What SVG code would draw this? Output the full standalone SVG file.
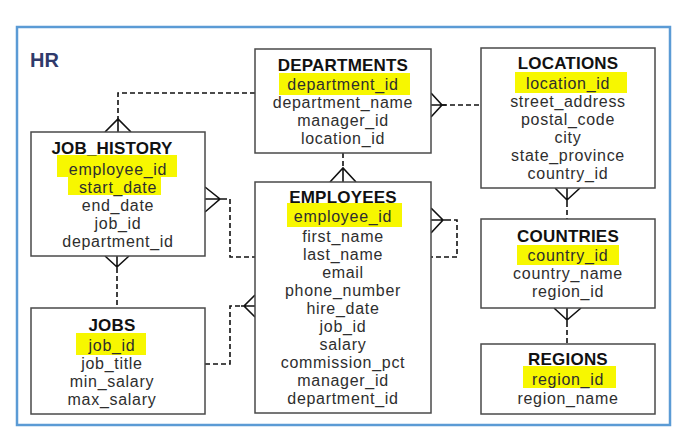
<svg xmlns="http://www.w3.org/2000/svg" width="689" height="431" viewBox="0 0 689 431">
<style>
.frame{fill:#fff;stroke:#5b9bd5;stroke-width:2.5}
.box{fill:#fff;stroke:#4a4a4a;stroke-width:1.5}
.hl{fill:#f7f700}
.t{font-family:"Liberation Sans",Arial,sans-serif;font-size:16px;letter-spacing:0.7px;fill:#2e2e2e;text-anchor:middle}
.h{font-family:"Liberation Sans",Arial,sans-serif;font-size:17px;letter-spacing:0.2px;font-weight:bold;fill:#111;text-anchor:middle}
.dash{fill:none;stroke:#111;stroke-width:1.6;stroke-dasharray:5 3}
.solid{fill:none;stroke:#111;stroke-width:1.6}
</style>
<rect width="689" height="431" fill="#fff"/>
<rect class="frame" x="17" y="27" width="653" height="398"/>
<text x="30" y="67" font-family="Liberation Sans,Arial,sans-serif" font-size="20" font-weight="bold" fill="#2f3a6b">HR</text>

<g id="connectors">
  <!-- DEPARTMENTS - JOB_HISTORY -->
  <path class="dash" d="M255,93 H118 V120"/>
  <path class="solid" d="M105,132 L118,119 L131,132 M118,119 V132"/>
  <!-- DEPARTMENTS - LOCATIONS -->
  <path class="dash" d="M442,105 H481"/>
  <path class="solid" d="M431,93 L442,105 L431,117 M431,105 H446"/>
  <!-- DEPARTMENTS - EMPLOYEES -->
  <path class="dash" d="M343,153 V168"/>
  <path class="solid" d="M330,182 L343,168 L356,182 M343,168 V182"/>
  <!-- LOCATIONS - COUNTRIES -->
  <path class="solid" d="M555,188 L567,200 L580,188 M567,188 V202"/>
  <path class="dash" d="M567,202 V219"/>
  <!-- COUNTRIES - REGIONS -->
  <path class="solid" d="M554,308 L567,320 L581,308 M567,308 V322"/>
  <path class="dash" d="M567,322 V344"/>
  <!-- JOB_HISTORY - JOBS -->
  <path class="solid" d="M105,256 L117,267 L129,256 M117,256 V268"/>
  <path class="dash" d="M117,268 V308"/>
  <!-- JOB_HISTORY - EMPLOYEES -->
  <path class="solid" d="M205,187 L220,199 L205,212 M205,199 H222"/>
  <path class="dash" d="M222,199 H230 V257 H255"/>
  <!-- JOBS - EMPLOYEES -->
  <path class="dash" d="M205,364 H230 V306 H243"/>
  <path class="solid" d="M255,295 L244,306 L255,317 M241,306 H255"/>
  <!-- EMPLOYEES self (manager) -->
  <path class="solid" d="M431,208 L443,220 L431,233 M431,220 H446"/>
  <path class="dash" d="M446,220 H457 V257 H431"/>
</g>

<g id="job_history">
  <rect class="box" x="31" y="132" width="174" height="124"/>
  <rect class="hl" x="57" y="155" width="120" height="22"/>
  <rect class="hl" x="68" y="177" width="93" height="18"/>
  <text class="h" x="112" y="154">JOB_HISTORY</text>
  <text class="t" x="118" y="175">employee_id</text>
  <text class="t" x="118" y="193">start_date</text>
  <text class="t" x="118" y="211">end_date</text>
  <text class="t" x="118" y="229">job_id</text>
  <text class="t" x="118" y="247">department_id</text>
</g>

<g id="jobs">
  <rect class="box" x="31" y="308" width="174" height="106"/>
  <rect class="hl" x="76" y="333" width="70" height="22"/>
  <text class="h" x="112" y="331">JOBS</text>
  <text class="t" x="112" y="351">job_id</text>
  <text class="t" x="112" y="369">job_title</text>
  <text class="t" x="112" y="387">min_salary</text>
  <text class="t" x="112" y="405">max_salary</text>
</g>

<g id="departments">
  <rect class="box" x="255" y="49" width="176" height="104"/>
  <rect class="hl" x="279" y="73" width="131" height="22"/>
  <text class="h" x="343" y="71">DEPARTMENTS</text>
  <text class="t" x="343" y="90">department_id</text>
  <text class="t" x="343" y="108">department_name</text>
  <text class="t" x="343" y="126">manager_id</text>
  <text class="t" x="343" y="144">location_id</text>
</g>

<g id="employees">
  <rect class="box" x="255" y="182" width="176" height="231"/>
  <rect class="hl" x="287" y="203" width="115" height="24"/>
  <text class="h" x="343" y="203">EMPLOYEES</text>
  <text class="t" x="343" y="222">employee_id</text>
  <text class="t" x="343" y="242">first_name</text>
  <text class="t" x="343" y="260">last_name</text>
  <text class="t" x="343" y="278">email</text>
  <text class="t" x="343" y="296">phone_number</text>
  <text class="t" x="343" y="314">hire_date</text>
  <text class="t" x="343" y="332">job_id</text>
  <text class="t" x="343" y="350">salary</text>
  <text class="t" x="343" y="368">commission_pct</text>
  <text class="t" x="343" y="386">manager_id</text>
  <text class="t" x="343" y="404">department_id</text>
</g>

<g id="locations">
  <rect class="box" x="481" y="48" width="174" height="140"/>
  <rect class="hl" x="515" y="72" width="112" height="21"/>
  <text class="h" x="568" y="69">LOCATIONS</text>
  <text class="t" x="568" y="89">location_id</text>
  <text class="t" x="568" y="107">street_address</text>
  <text class="t" x="568" y="125">postal_code</text>
  <text class="t" x="568" y="143">city</text>
  <text class="t" x="568" y="161">state_province</text>
  <text class="t" x="568" y="179">country_id</text>
</g>

<g id="countries">
  <rect class="box" x="481" y="219" width="174" height="89"/>
  <rect class="hl" x="517" y="245" width="102" height="20"/>
  <text class="h" x="568" y="242">COUNTRIES</text>
  <text class="t" x="568" y="261">country_id</text>
  <text class="t" x="568" y="279">country_name</text>
  <text class="t" x="568" y="297">region_id</text>
</g>

<g id="regions">
  <rect class="box" x="481" y="344" width="174" height="70"/>
  <rect class="hl" x="523" y="366" width="93" height="22"/>
  <text class="h" x="568" y="365">REGIONS</text>
  <text class="t" x="568" y="385">region_id</text>
  <text class="t" x="568" y="404">region_name</text>
</g>
</svg>
